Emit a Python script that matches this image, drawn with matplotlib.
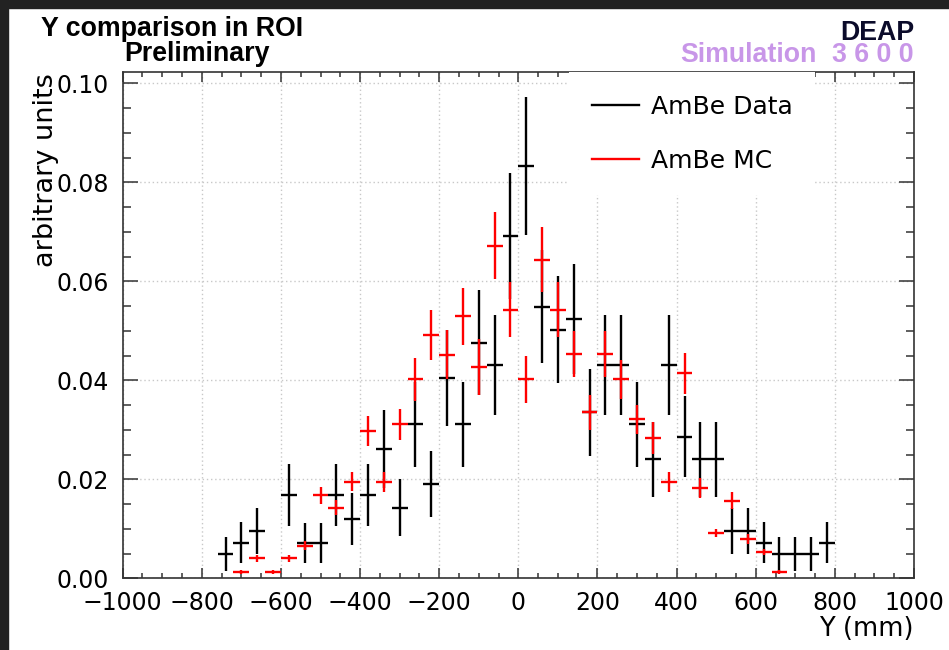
import matplotlib
matplotlib.use("Agg")
import matplotlib.pyplot as plt
from matplotlib.lines import Line2D
from matplotlib.patches import Rectangle
from matplotlib.ticker import MultipleLocator, FormatStrFormatter

# AmBe data (black), bin centres in mm, 40 mm bins
data_y = [-740, -700, -660, -580, -540, -500, -460, -420, -380, -340, -300, -260,
          -220, -180, -140, -100, -60, -20, 20, 60, 100, 140, 180, 220, 260, 300,
          340, 380, 420, 460, 500, 540, 580, 620, 660, 700, 740, 780]
data_val = [0.0049, 0.0072, 0.0096, 0.0168, 0.0071, 0.0071, 0.0168, 0.0120, 0.0168,
            0.0261, 0.0143, 0.0311, 0.0190, 0.0404, 0.0311, 0.0476, 0.0431, 0.0692,
            0.0833, 0.0549, 0.0502, 0.0524, 0.0335, 0.0431, 0.0431, 0.0311, 0.0240,
            0.0431, 0.0286, 0.0240, 0.0240, 0.0096, 0.0096, 0.0072, 0.0049, 0.0049,
            0.0049, 0.0072]
data_err = [0.0034, 0.0041, 0.0047, 0.0063, 0.0041, 0.0041, 0.0063, 0.0053, 0.0063,
            0.0079, 0.0058, 0.0086, 0.0067, 0.0097, 0.0086, 0.0106, 0.0101, 0.0127,
            0.0139, 0.0114, 0.0108, 0.0111, 0.0088, 0.0101, 0.0101, 0.0086, 0.0075,
            0.0101, 0.0082, 0.0075, 0.0075, 0.0047, 0.0047, 0.0041, 0.0034, 0.0034,
            0.0034, 0.0041]

# AmBe MC (red)
mc_y = [-700, -660, -620, -580, -540, -500, -460, -420, -380, -340, -300, -260,
        -220, -180, -140, -100, -60, -20, 20, 60, 100, 140, 180, 220, 260, 300,
        340, 380, 420, 460, 500, 540, 580, 620, 660]
mc_val = [0.0013, 0.0040, 0.0013, 0.0040, 0.0066, 0.0168, 0.0143, 0.0195, 0.0298,
          0.0195, 0.0311, 0.0402, 0.0492, 0.0452, 0.0529, 0.0427, 0.0672, 0.0543,
          0.0402, 0.0644, 0.0543, 0.0453, 0.0335, 0.0453, 0.0402, 0.0321, 0.0284,
          0.0195, 0.0414, 0.0182, 0.0091, 0.0157, 0.0079, 0.0054, 0.0013]
mc_err = [0.0004, 0.0007, 0.0004, 0.0007, 0.0009, 0.0017, 0.0016, 0.0019, 0.0030,
          0.0020, 0.0032, 0.0043, 0.0050, 0.0050, 0.0057, 0.0057, 0.0068, 0.0055,
          0.0048, 0.0066, 0.0056, 0.0046, 0.0035, 0.0047, 0.0040, 0.0030, 0.0032,
          0.0020, 0.0042, 0.0020, 0.0008, 0.0017, 0.0010, 0.0006, 0.0004]

half_bin = 20

W, H = 949, 650
fig = plt.figure(figsize=(W / 100, H / 100), dpi=100)
ax = fig.add_axes([122.7 / W, 1 - 578.3 / H, (914 - 122.7) / W, (578.3 - 72.3) / H])

# dark screenshot border on top and left
fig.patches.append(Rectangle((0, 1 - 8 / H), 1, 8 / H, transform=fig.transFigure,
                             color='#222222', zorder=0))
fig.patches.append(Rectangle((0, 0), 8 / W, 1, transform=fig.transFigure,
                             color='#222222', zorder=0))

ax.errorbar(data_y, data_val, yerr=data_err, xerr=half_bin, fmt='none',
            ecolor='black', elinewidth=1.7, capsize=0, zorder=3)
ax.errorbar(mc_y, mc_val, yerr=mc_err, xerr=half_bin, fmt='none',
            ecolor='#ff0000', elinewidth=1.7, capsize=0, zorder=4)

ax.set_xlim(-1000, 1000)
ax.set_ylim(0, 0.10222)
ax.xaxis.set_major_locator(MultipleLocator(200))
ax.xaxis.set_minor_locator(MultipleLocator(50))
ax.yaxis.set_major_locator(MultipleLocator(0.02))
ax.yaxis.set_minor_locator(MultipleLocator(0.005))
ax.yaxis.set_major_formatter(FormatStrFormatter('%.2f'))

ax.grid(True, which='major', linestyle=(0, (1, 2)), color='#c8c8c8', linewidth=1.0)
ax.set_axisbelow(True)

for s in ax.spines.values():
    s.set_color('#333333')
    s.set_linewidth(1.2)

ax.tick_params(which='both', direction='in', top=True, right=True, color='#333333',
               width=1.1, labelsize=17, pad=9)
ax.tick_params(axis='x', which='major', length=7.2)
ax.tick_params(axis='x', which='minor', length=3.6)
ax.tick_params(axis='y', which='major', length=10.8, pad=10)
ax.tick_params(axis='y', which='minor', length=5.8)

ax.set_xlabel('Y (mm)', fontsize=18.5, loc='right')
ax.xaxis.set_label_coords(1.0, -0.075)
# y title placed by hand: top-aligned with the frame, like ROOT
fig.text(46 / W, 1 - 73 / H, 'arbitrary units', rotation=90, ha='center', va='top',
         fontsize=19.5)

handles = [Line2D([], [], color='black', lw=1.7), Line2D([], [], color='#ff0000', lw=1.7)]
leg = ax.legend(handles, ['AmBe Data', 'AmBe MC'], loc='upper left',
                bbox_to_anchor=(0.5646, 1.0), borderaxespad=0, borderpad=0.9,
                fontsize=18, handlelength=1.9, handletextpad=0.45, labelspacing=1.2,
                frameon=True, fancybox=False)
leg.get_frame().set_facecolor('white')
leg.get_frame().set_edgecolor('none')
leg.get_frame().set_alpha(1.0)
leg.set_zorder(5)

bold = dict(family='Liberation Sans', weight='bold', fontsize=19.3)
fig.text(41 / W, 1 - 35.7 / H, 'Y comparison in ROI', ha='left', va='baseline', **bold)
fig.text(124 / W, 1 - 61 / H, 'Preliminary', ha='left', va='baseline', **bold)
fig.text(914 / W, 1 - 40.5 / H, 'DEAP', ha='right', va='baseline', color='#0b0b2a', **bold)
fig.text(817 / W, 1 - 62 / H, 'Simulation', ha='right', va='baseline', color='#c896e8', **bold)
fig.text(914 / W, 1 - 62 / H, '3 6 0 0', ha='right', va='baseline', color='#c896e8', **bold)

plt.savefig('out.png', dpi=100)
